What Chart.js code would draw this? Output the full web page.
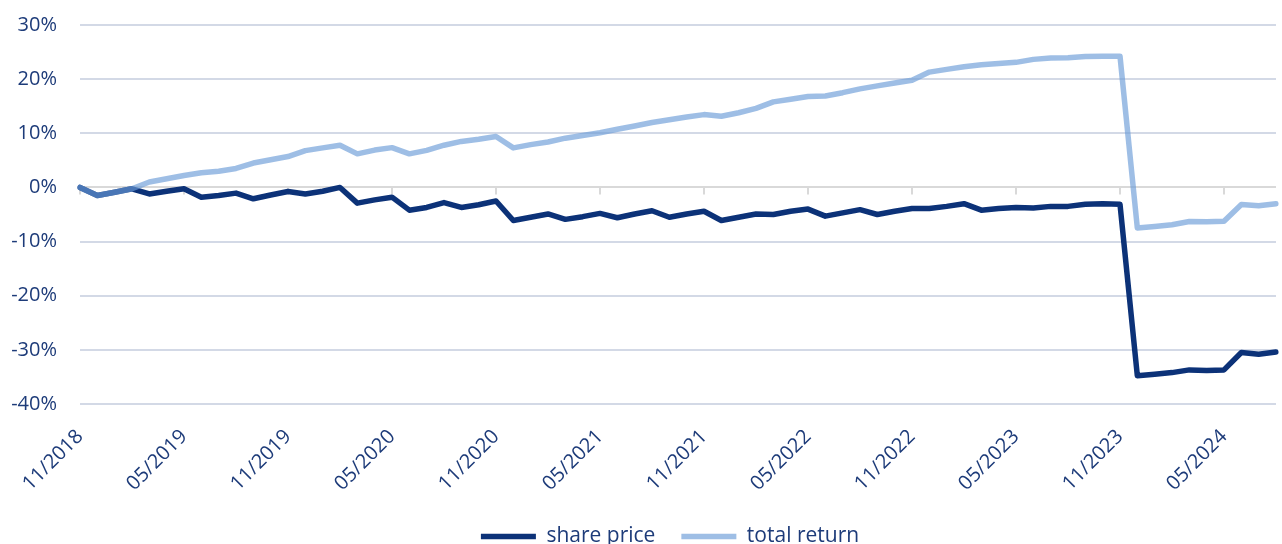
<!DOCTYPE html>
<html>
<head>
<meta charset="utf-8">
<script src="https://cdn.jsdelivr.net/npm/chart.js"></script>
<style>
  html, body { margin: 0; padding: 0; background: #ffffff; overflow: hidden; }
  #wrap { width: 1282px; height: 544px; overflow: hidden; }
  canvas { display: block; }
</style>
</head>
<body>
<div id="wrap"><canvas id="c" width="1282" height="557"></canvas></div>
<script>
const months = [
  "11/2018","12/2018",
  "01/2019","02/2019","03/2019","04/2019","05/2019","06/2019","07/2019","08/2019","09/2019","10/2019","11/2019","12/2019",
  "01/2020","02/2020","03/2020","04/2020","05/2020","06/2020","07/2020","08/2020","09/2020","10/2020","11/2020","12/2020",
  "01/2021","02/2021","03/2021","04/2021","05/2021","06/2021","07/2021","08/2021","09/2021","10/2021","11/2021","12/2021",
  "01/2022","02/2022","03/2022","04/2022","05/2022","06/2022","07/2022","08/2022","09/2022","10/2022","11/2022","12/2022",
  "01/2023","02/2023","03/2023","04/2023","05/2023","06/2023","07/2023","08/2023","09/2023","10/2023","11/2023","12/2023",
  "01/2024","02/2024","03/2024","04/2024","05/2024","06/2024","07/2024","08/2024"
];

const sharePrice = [
  0, -1.5, -0.9, -0.25, -1.2, -0.7, -0.25, -1.8, -1.5, -1.05,
  -2.1, -1.4, -0.75, -1.2, -0.7, 0, -2.9, -2.3, -1.8, -4.2,
  -3.7, -2.8, -3.7, -3.2, -2.5, -6.1, -5.5, -4.9, -5.9, -5.4,
  -4.8, -5.6, -4.9, -4.3, -5.5, -4.9, -4.4, -6.1, -5.5, -4.9,
  -5.0, -4.4, -4.0, -5.3, -4.7, -4.1, -5.0, -4.4, -3.9, -3.9,
  -3.5, -3.0, -4.2, -3.9, -3.7, -3.8, -3.5, -3.5, -3.1, -3.0,
  -3.1, -34.8, -34.5, -34.2, -33.7, -33.8, -33.7, -30.5, -30.8, -30.4
];

const totalReturn = [
  0, -1.5, -0.9, -0.25, 1.0, 1.6, 2.2, 2.7, 3.0, 3.5,
  4.5, 5.1, 5.7, 6.8, 7.3, 7.8, 6.2, 6.9, 7.35, 6.2,
  6.85, 7.8, 8.5, 8.9, 9.4, 7.3, 7.9, 8.4, 9.1, 9.6,
  10.1, 10.75, 11.35, 12.0, 12.5, 13.0, 13.45, 13.15, 13.8, 14.6,
  15.8, 16.3, 16.8, 16.9, 17.5, 18.2, 18.75, 19.3, 19.8, 21.3,
  21.8, 22.3, 22.65, 22.9, 23.1, 23.65, 23.9, 23.95, 24.2, 24.25,
  24.25, -7.5, -7.2, -6.9, -6.3, -6.35, -6.25, -3.15, -3.4, -3.0
];

const seriesNames = ["share price", "total return"];
const yMin = -40, yMax = 30, yStep = 10;
const labelEvery = 6;

const textColor = "#1d3b79";
const navy = "#0c3278";
const lightBlue = "rgba(106,155,215,0.65)";
const font = "'Open Sans', 'Noto Sans', sans-serif";

const zeroTicks = {
  id: "zeroTicks",
  beforeDatasetsDraw(chart) {
    const { ctx, scales: { x, y } } = chart;
    const y0 = y.getPixelForValue(0);
    ctx.save();
    ctx.strokeStyle = "#d9d9d9";
    ctx.lineWidth = 2;
    for (let i = 0; i < months.length; i += labelEvery) {
      const px = Math.round(x.getPixelForValue(i));
      ctx.beginPath();
      ctx.moveTo(px, y0);
      ctx.lineTo(px, y0 + 7);
      ctx.stroke();
    }
    ctx.restore();
  }
};

const legendShift = {
  id: "legendShift",
  afterLayout(chart) {
    if (chart.legend) {
      chart.legend.left -= 8;
      chart.legend.right -= 8;
    }
  }
};

new Chart(document.getElementById("c"), {
  type: "line",
  data: {
    labels: months,
    datasets: [
      {
        label: seriesNames[0],
        data: sharePrice,
        borderColor: navy,
        backgroundColor: navy,
        borderWidth: 5.5,
        pointRadius: 0,
        tension: 0,
        borderCapStyle: "round",
        borderJoinStyle: "round",
        order: 1
      },
      {
        label: seriesNames[1],
        data: totalReturn,
        borderColor: lightBlue,
        backgroundColor: lightBlue,
        borderWidth: 5.5,
        pointRadius: 0,
        tension: 0,
        borderCapStyle: "round",
        borderJoinStyle: "round",
        order: 0
      }
    ]
  },
  options: {
    responsive: false,
    animation: false,
    devicePixelRatio: 1,
    layout: { padding: { top: 25, right: 6, left: 0, bottom: 0 } },
    plugins: {
      tooltip: { enabled: false },
      legend: {
        position: "bottom",
        fullSize: false,
        labels: {
          usePointStyle: true,
          pointStyle: "line",
          pointStyleWidth: 55,
          padding: 26,
          color: textColor,
          font: { family: font, size: 21 },
          sort: (a, b) => a.datasetIndex - b.datasetIndex
        }
      }
    },
    scales: {
      x: {
        grid: { display: false, drawTicks: false },
        border: { display: false },
        ticks: {
          autoSkip: false,
          maxRotation: 45,
          minRotation: 45,
          padding: 21,
          color: textColor,
          font: { family: font, size: 20 },
          callback: function (v, i) { return i % labelEvery === 0 ? months[i] : ""; }
        },
        afterFit(s) { s.height = 96; s.paddingLeft = 0; s.paddingRight = 0; }
      },
      y: {
        min: yMin,
        max: yMax,
        grid: {
          drawTicks: false,
          lineWidth: 2,
          color: (c) => (c.tick && c.tick.value === 0 ? "#d9d9d9" : "#d3d9e6")
        },
        border: { display: false },
        ticks: {
          stepSize: yStep,
          padding: 23,
          color: textColor,
          font: { family: font, size: 20 },
          callback: (v) => v + "%"
        },
        afterFit(s) { s.width = 80; s.paddingTop = 0; s.paddingBottom = 0; }
      }
    }
  },
  plugins: [zeroTicks, legendShift]
});
</script>
</body>
</html>
